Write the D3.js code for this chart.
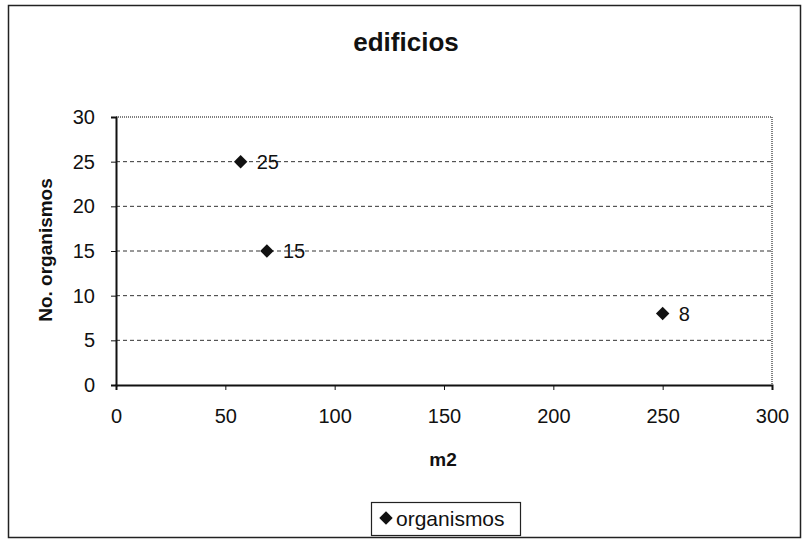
<!DOCTYPE html>
<html>
<head>
<meta charset="utf-8">
<script src="https://cdn.jsdelivr.net/npm/d3@7"></script>
<style>
  body { margin: 0; background: #fff; }
  svg { font-family: "Liberation Sans", Arial, sans-serif; }
</style>
</head>
<body>
<svg id="chart" width="803" height="544"></svg>
<script>
// data
const seriesName = 'organismos';
const m2 = [57, 69, 250];
const organismos = [25, 15, 8];
const xTicks = [0, 50, 100, 150, 200, 250, 300];
const yTicks = [0, 5, 10, 15, 20, 25, 30];

const svg = d3.select('#chart');

// outer frame
svg.append('rect')
    .attr('x', 8.5).attr('y', 5.5)
    .attr('width', 792).attr('height', 532)
    .attr('fill', '#fff')
    .attr('stroke', '#222')
    .attr('stroke-width', 1.5);

const x = d3.scaleLinear().domain([0, 300]).range([116, 772]);
const y = d3.scaleLinear().domain([0, 30]).range([385, 117]);

// title
svg.append('text')
    .attr('x', 406).attr('y', 51)
    .attr('text-anchor', 'middle')
    .attr('font-size', 26).attr('font-weight', 'bold')
    .attr('fill', '#111')
    .text('edificios');

// gridlines
svg.append('g')
    .selectAll('line')
    .data(yTicks.filter(d => d > 0 && d < 30))
    .enter()
    .append('line')
    .attr('x1', x(0)).attr('x2', x(300))
    .attr('y1', d => y(d)).attr('y2', d => y(d))
    .attr('stroke', '#333')
    .attr('stroke-dasharray', '4,3');

// plot area top and right edges (dotted)
svg.append('path')
    .attr('d', `M${x(0)},${y(30)}H${x(300)}V${y(0)}`)
    .attr('fill', 'none')
    .attr('stroke', '#555')
    .attr('stroke-width', 1.5)
    .attr('stroke-dasharray', '1,1');

// axes
const xAxis = svg.append('g')
    .attr('transform', `translate(0,${y(0)})`)
    .call(d3.axisBottom(x).tickValues(xTicks).tickSize(5).tickPadding(19));
const yAxis = svg.append('g')
    .attr('transform', `translate(${x(0)},0)`)
    .call(d3.axisLeft(y).tickValues(yTicks).tickSize(5).tickPadding(16));

[xAxis, yAxis].forEach(g => {
    g.select('.domain').attr('stroke', '#111').attr('stroke-width', 2);
    g.selectAll('.tick line').attr('stroke', '#111');
    g.selectAll('.tick text')
        .attr('font-size', 20)
        .attr('font-family', '"Liberation Sans", Arial, sans-serif')
        .attr('fill', '#111');
});

// axis titles
svg.append('text')
    .attr('x', 443).attr('y', 466)
    .attr('text-anchor', 'middle')
    .attr('font-size', 19).attr('font-weight', 'bold')
    .attr('fill', '#111')
    .text('m2');

svg.append('text')
    .attr('transform', 'translate(52,250) rotate(-90)')
    .attr('text-anchor', 'middle')
    .attr('font-size', 19).attr('font-weight', 'bold')
    .attr('fill', '#111')
    .text('No. organismos');

// points
const points = m2.map((v, i) => ({ x: v, y: organismos[i] }));
const diamond = d3.symbol().type(d3.symbolDiamond2).size(115);

svg.append('g')
    .selectAll('path')
    .data(points)
    .enter()
    .append('path')
    .attr('d', diamond)
    .attr('transform', d => `translate(${x(d.x)},${y(d.y)})`)
    .attr('fill', '#111');

svg.append('g')
    .selectAll('text')
    .data(points)
    .enter()
    .append('text')
    .attr('x', d => x(d.x) + 16)
    .attr('y', d => y(d.y) + 7)
    .attr('font-size', 20)
    .attr('fill', '#111')
    .text(d => d.y);

// legend
const legend = svg.append('g').attr('transform', 'translate(371,502)');
legend.append('rect')
    .attr('x', 0.5).attr('y', 0.5)
    .attr('width', 149).attr('height', 33)
    .attr('fill', '#fff')
    .attr('stroke', '#222')
    .attr('stroke-width', 1.2);
legend.append('path')
    .attr('d', diamond)
    .attr('transform', 'translate(15,16)')
    .attr('fill', '#111');
legend.append('text')
    .attr('x', 25).attr('y', 24)
    .attr('font-size', 21)
    .attr('fill', '#111')
    .text(seriesName);
</script>
</body>
</html>
